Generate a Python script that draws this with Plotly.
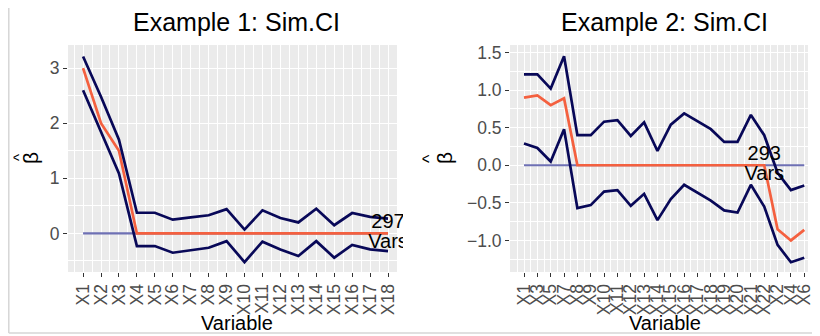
import plotly.graph_objects as go

# ---------------- data ----------------
cats1 = ["X1", "X2", "X3", "X4", "X5", "X6", "X7", "X8", "X9", "X10",
         "X11", "X12", "X13", "X14", "X15", "X16", "X17", "X18"]
est1 = [3.0, 2.0, 1.5, 0, 0, 0, 0, 0, 0, 0, 0, 0, 0, 0, 0, 0, 0, 0]
upper1 = [3.21, 2.48, 1.70, 0.375, 0.375, 0.25, 0.29, 0.33, 0.44, 0.07,
          0.42, 0.28, 0.20, 0.45, 0.15, 0.37, 0.30, 0.27]
lower1 = [2.60, 1.85, 1.09, -0.23, -0.23, -0.35, -0.31, -0.26, -0.14, -0.52,
          -0.15, -0.29, -0.41, -0.14, -0.44, -0.21, -0.29, -0.32]
ref1 = [0] * len(cats1)
label1 = ["297", "Vars"]
label1_cat = "X18"
yticks1 = [0, 1, 2, 3]
yticktext1 = ["0", "1", "2", "3"]

cats2 = ["X1", "X3", "X5", "X7", "X8", "X9", "X10", "X11", "X12", "X13", "X14",
         "X15", "X16", "X17", "X18", "X19", "X20", "X21", "X22", "X2", "X4", "X6"]
est2 = [0.90, 0.93, 0.80, 0.89, 0, 0, 0, 0, 0, 0, 0,
        0, 0, 0, 0, 0, 0, 0, 0, -0.85, -1.00, -0.86]
upper2 = [1.21, 1.21, 1.02, 1.45, 0.40, 0.40, 0.58, 0.60, 0.39, 0.57, 0.19,
          0.54, 0.69, 0.59, 0.48, 0.31, 0.31, 0.67, 0.40, -0.10, -0.33, -0.27]
lower2 = [0.29, 0.23, 0.05, 0.48, -0.57, -0.53, -0.35, -0.33, -0.54, -0.38, -0.73,
          -0.45, -0.26, -0.37, -0.47, -0.60, -0.63, -0.26, -0.55, -1.06, -1.29, -1.23]
ref2 = [0] * len(cats2)
label2 = ["293", "Vars"]
label2_cat = "X22"
yticks2 = [-1.0, -0.5, 0.0, 0.5, 1.0, 1.5]
yticktext2 = ["\u22121.0", "\u22120.5", "0.0", "0.5", "1.0", "1.5"]

titles = ["Example 1: Sim.CI", "Example 2: Sim.CI"]
xtitle = "Variable"
ytitle_hat = "^"
ytitle_sym = "\u03b2"

# ---------------- style ----------------
OFF = 8                      # page body margin of the browser
W, H = 820 - OFF, 336 - OFF  # figure size that fits in the window
FONT = "Liberation Sans, Arial, Helvetica, sans-serif"
NAVY = "#080858"
RED = "#F4603F"
BLUE = "#6E70B4"
PANEL = "#EBEBEB"


def fx(p):
    return (p - OFF) / W


def fy(p):
    return 1 - (p - OFF) / H


idx1 = list(range(len(cats1)))
idx2 = list(range(len(cats2)))

fig = go.Figure()


def add_panel(xa, ya, idx, ref, est, upper, lower):
    fig.add_trace(go.Scatter(x=idx, y=ref, mode="lines", xaxis=xa, yaxis=ya,
                             line=dict(color=BLUE, width=2.2), hoverinfo="skip"))
    fig.add_trace(go.Scatter(x=idx, y=est, mode="lines", xaxis=xa, yaxis=ya,
                             line=dict(color=RED, width=2.7), hoverinfo="skip"))
    fig.add_trace(go.Scatter(x=idx, y=upper, mode="lines", xaxis=xa, yaxis=ya,
                             line=dict(color=NAVY, width=2.7), hoverinfo="skip"))
    fig.add_trace(go.Scatter(x=idx, y=lower, mode="lines", xaxis=xa, yaxis=ya,
                             line=dict(color=NAVY, width=2.7), hoverinfo="skip"))


add_panel("x", "y", idx1, ref1, est1, upper1, lower1)
add_panel("x2", "y2", idx2, ref2, est2, upper2, lower2)

# count labels
p1 = cats1.index(label1_cat)
p2 = cats2.index(label2_cat)
fig.add_trace(go.Scatter(x=[p1, p1], y=[0, 0], mode="text", text=label1,
                         textposition=["top center", "bottom center"],
                         textfont=dict(family=FONT, size=20, color="black"),
                         xaxis="x3", yaxis="y3", cliponaxis=True, hoverinfo="skip"))
fig.add_trace(go.Scatter(x=[p2, p2], y=[0, 0], mode="text", text=label2,
                         textposition=["top center", "bottom center"],
                         textfont=dict(family=FONT, size=20, color="black"),
                         xaxis="x2", yaxis="y2", cliponaxis=False, hoverinfo="skip"))

# geometry (window pixels)
L1, R1 = 68, 397
L2, R2 = 510, 808
T, B = 45, 272
xr1 = [-0.84, 17.5]
xr2 = [-1.05, 21.28]
yr1 = [-0.70, 3.42]
yr2 = [-1.42, 1.60]
clipR1 = 403
xr3 = [xr1[0], xr1[1] + (clipR1 - R1) * (xr1[1] - xr1[0]) / (R1 - L1)]

tickfont = dict(family=FONT, size=17.5, color="#4D4D4D")
common_x = dict(showline=False, zeroline=False, showgrid=True, gridcolor="white",
                gridwidth=1.2, ticks="outside", ticklen=4, tickcolor="#333333",
                tickwidth=1.1, tickangle=-90, tickfont=tickfont, tickmode="array",
                automargin=False,
                minor=dict(tickmode="linear", tick0=0.5, dtick=1, showgrid=True,
                           gridcolor="white", gridwidth=0.6))
common_y = dict(showline=False, zeroline=False, showgrid=True, gridcolor="white",
                gridwidth=1.2, ticks="outside", ticklen=4, tickcolor="#333333",
                tickwidth=1.1, tickfont=tickfont, tickmode="array", automargin=False)

fig.update_layout(
    width=W, height=H,
    margin=dict(l=0, r=0, t=0, b=0, autoexpand=False),
    paper_bgcolor="white",
    plot_bgcolor="rgba(0,0,0,0)",
    showlegend=False,
    font=dict(family=FONT),
    xaxis=dict(domain=[fx(L1), fx(R1)], range=xr1, anchor="y",
               tickvals=idx1, ticktext=cats1, **common_x),
    yaxis=dict(domain=[fy(B), fy(T)], range=yr1, anchor="x",
               tickvals=yticks1, ticktext=yticktext1,
               minor=dict(tickmode="linear", tick0=0.5, dtick=1, showgrid=True,
                          gridcolor="white", gridwidth=0.6), **common_y),
    xaxis2=dict(domain=[fx(L2), fx(R2)], range=xr2, anchor="y2",
                tickvals=idx2, ticktext=cats2, **common_x),
    yaxis2=dict(domain=[fy(B), fy(T)], range=yr2, anchor="x2",
                tickvals=yticks2, ticktext=yticktext2,
                minor=dict(tickmode="linear", tick0=0.25, dtick=0.5, showgrid=True,
                           gridcolor="white", gridwidth=0.6), **common_y),
    xaxis3=dict(domain=[fx(L1), fx(clipR1)], range=xr3, anchor="y3", visible=False,
                showgrid=False, zeroline=False, automargin=False),
    yaxis3=dict(domain=[fy(B), fy(T)], range=yr1, anchor="x3", visible=False,
                showgrid=False, zeroline=False, automargin=False),
)

shapes = [
    dict(type="rect", xref="x domain", yref="y domain", x0=0, x1=1, y0=0, y1=1,
         fillcolor=PANEL, line=dict(width=0), layer="below"),
    dict(type="rect", xref="x2 domain", yref="y2 domain", x0=0, x1=1, y0=0, y1=1,
         fillcolor=PANEL, line=dict(width=0), layer="below"),
    dict(type="line", xref="paper", yref="paper", x0=fx(8.8), x1=fx(8.8), y0=fy(333), y1=1,
         line=dict(color="#D6D6D6", width=1.5)),
    dict(type="line", xref="paper", yref="paper", x0=fx(8.8), x1=1, y0=fy(333), y1=fy(333),
         line=dict(color="#D6D6D6", width=1.5)),
]
fig.update_layout(shapes=shapes)

ann = []
for t, cx in zip(titles, [236, 664]):
    ann.append(dict(text=t, x=fx(cx), y=fy(22.5), xref="paper", yref="paper",
                    xanchor="center", yanchor="middle", showarrow=False,
                    font=dict(family=FONT, size=25, color="black")))
for cx in [237, 665]:
    ann.append(dict(text=xtitle, x=fx(cx), y=fy(335.5), xref="paper", yref="paper",
                    xanchor="center", yanchor="bottom", showarrow=False,
                    font=dict(family=FONT, size=20, color="black")))
# y-axis titles: hat above beta, rotated
for hx, hs in [(18, 15), (429, 18)]:
    ann.append(dict(text=ytitle_hat, x=fx(hx), y=fy(158), xref="paper", yref="paper",
                    xanchor="center", yanchor="middle", showarrow=False, textangle=-90,
                    font=dict(family=FONT, size=hs, color="black")))
for bx in [30, 444]:
    ann.append(dict(text=ytitle_sym, x=fx(bx), y=fy(158), xref="paper", yref="paper",
                    xanchor="center", yanchor="middle", showarrow=False, textangle=-90,
                    font=dict(family=FONT, size=21, color="black")))
fig.update_layout(annotations=ann)

fig.write_html("out.html")
